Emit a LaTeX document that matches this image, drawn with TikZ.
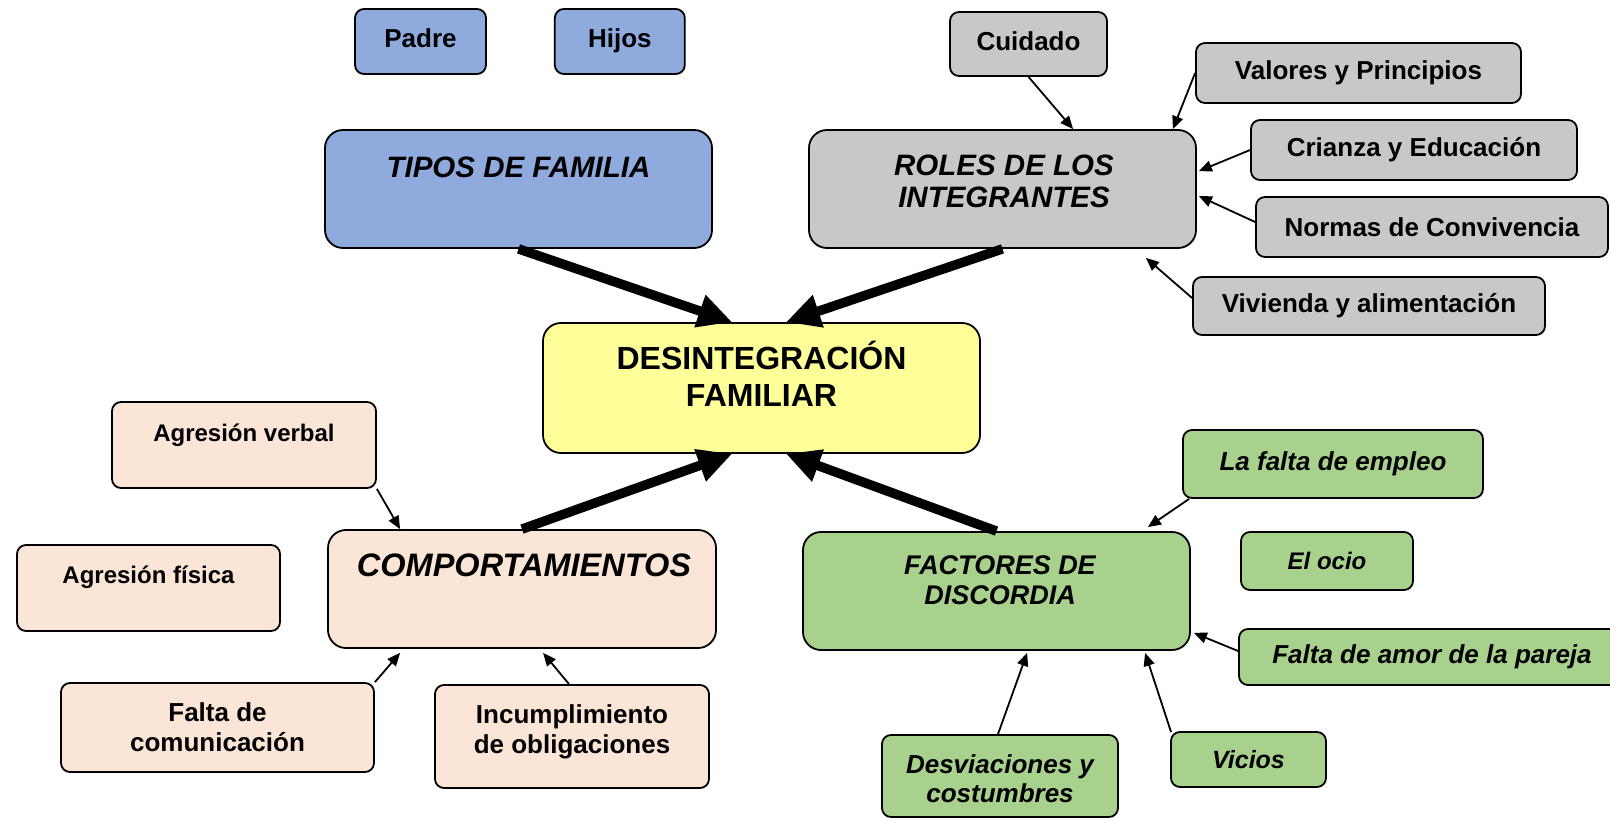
\documentclass[tikz,border=0pt]{standalone}
\usepackage{fontspec}
\setmainfont{Liberation Sans}
\usetikzlibrary{arrows.meta, positioning, calc}
\definecolor{mapBlue}{RGB}{143, 170, 220}
\definecolor{mapGray}{RGB}{200, 200, 200}
\definecolor{mapYellow}{RGB}{255, 255, 153}
\definecolor{mapPeach}{RGB}{251, 229, 214}
\definecolor{mapGreen}{RGB}{169, 209, 142}
\newcommand{\mapfont}[2]{\fontsize{#1}{#2}\selectfont}

\begin{document}
\begin{tikzpicture}[
    x=1pt, y=-1pt,
    % Estilo base para cajas grandes
    block/.style={
        draw=black,
        line width=1.8pt,
        rounded corners=18pt,
        inner sep=0pt,
        align=center
    },
    % Estilo para cajas secundarias
    leaf/.style={
        block,
        rounded corners=9pt,
        font=\bfseries\mapfont{26}{30}
    },
    greenleaf/.style={
        leaf,
        fill=mapGreen,
        font=\bfseries\itshape\mapfont{26}{29}
    },
    % Titulos dentro de las cajas grandes
    title/.style={
        font=\bfseries\itshape\mapfont{29.5}{32},
        align=center,
        inner sep=0pt
    },
    % Flechas gruesas hacia el centro
    thickarrow/.style={
        -{Triangle[length=34pt, width=32pt]},
        line width=9.5pt
    },
    % Flechas finas
    arrow/.style={
        -{Triangle[length=13pt, width=11pt]},
        line width=1.8pt
    }
]

    \path[use as bounding box, fill=white] (0,0) rectangle (1610,818);

    % --- 1. Nodo central ---
    \node[block, fill=mapYellow, minimum width=437pt, minimum height=130pt] (des) at (761.5,388) {};
    \node[title, font=\bfseries\mapfont{32}{37}] (des_txt) at (761.5,374) {DESINTEGRACIÓN\\FAMILIAR};

    % --- 2. Tipos de familia ---
    \node[block, fill=mapBlue, minimum width=387pt, minimum height=118pt] (tipos) at (518.5,189) {};
    \node[title] (tipos_txt) at (518.5,167) {TIPOS DE FAMILIA};

    \node[leaf, fill=mapBlue, minimum width=131pt, minimum height=65pt, text depth=6pt] (padre) at (420.5,41.5) {Padre};
    \node[leaf, fill=mapBlue, minimum width=130pt, minimum height=65pt, text depth=6pt, right=67pt of padre] (hijos) {Hijos};

    \draw[thickarrow] (tipos.south) -- ($(des.north west)+(190,0)$);

    % --- 3. Roles de los integrantes ---
    \node[block, fill=mapGray, minimum width=387pt, minimum height=118pt] (roles) at (1002.5,189) {};
    \node[title] (roles_txt) at (1004,181) {ROLES DE LOS\\INTEGRANTES};

    \node[leaf, fill=mapGray, minimum width=157pt, minimum height=64pt, text depth=6pt] (cuidado) at (1028.5,44) {Cuidado};
    \node[leaf, fill=mapGray, minimum width=325pt, minimum height=60pt] (valores) at (1358.5,73) {Valores y Principios};
    \node[leaf, fill=mapGray, minimum width=326pt, minimum height=60pt] (crianza) at (1414,150) {Crianza y Educación};
    \node[leaf, fill=mapGray, minimum width=352pt, minimum height=60pt] (normas) at (1432,227) {Normas de Convivencia};
    \node[leaf, fill=mapGray, minimum width=352pt, minimum height=58pt] (vivienda) at (1369,306) {Vivienda y alimentación};

    \draw[arrow] (cuidado.south) -- ($(roles.north west)+(265,0)$);
    \draw[arrow] (valores.west) -- ($(roles.north east)+(-24,0)$);
    \draw[arrow] (crianza.west) -- ($(roles.north east)+(2,42)$);
    \draw[arrow] ($(normas.west)+(0,-5)$) -- ($(roles.north east)+(2,67)$);
    \draw[arrow] ($(vivienda.west)+(0,-8)$) -- ($(roles.south east)+(-51,9)$);

    \draw[thickarrow] (roles.south) -- ($(des.north west)+(244,0)$);

    % --- 4. Comportamientos ---
    \node[block, fill=mapPeach, minimum width=388pt, minimum height=118pt] (comp) at (522,589) {};
    \node[title, font=\bfseries\itshape\mapfont{32.5}{34}] (comp_txt) at (524,565.5) {COMPORTAMIENTOS};

    \node[leaf, fill=mapPeach, minimum width=264pt, minimum height=86pt] (averbal) at (244,445) {};
    \node[font=\bfseries\mapfont{24}{28}, anchor=base] (averbal_txt) at (244,441) {Agresión verbal};
    \node[leaf, fill=mapPeach, minimum width=263pt, minimum height=86pt] (afisica) at (148.5,588) {};
    \node[font=\bfseries\mapfont{24}{28}, anchor=base] (afisica_txt) at (148.5,583) {Agresión física};
    \node[leaf, fill=mapPeach, minimum width=313pt, minimum height=89pt] (faltacom) at (217.5,727.5) {Falta de\\comunicación};
    \node[leaf, fill=mapPeach, minimum width=274pt, minimum height=103pt] (incump) at (572,736.5) {};
    \node[font=\bfseries\mapfont{26}{30}, align=center, inner sep=0pt] (incump_txt) at (572,732) {Incumplimiento\\de obligaciones};

    \draw[arrow] (averbal.south east) -- ($(comp.north west)+(73,0)$);
    \draw[arrow] (faltacom.north east) -- ($(comp.south west)+(73,4)$);
    \draw[arrow] ($(incump.north)+(-3,0)$) -- ($(comp.south west)+(216,4)$);

    \draw[thickarrow] (comp.north) -- ($(des.south west)+(190,0)$);

    % --- 5. Factores de discordia ---
    \node[block, fill=mapGreen, minimum width=387pt, minimum height=118pt] (factores) at (996.5,591) {};
    \node[title, font=\bfseries\itshape\mapfont{27}{30}] (factores_txt) at (1000,580) {FACTORES DE\\DISCORDIA};

    \node[greenleaf, minimum width=300pt, minimum height=68pt] (empleo) at (1333,464) {La falta de empleo};
    \node[greenleaf, minimum width=172pt, minimum height=58pt, font=\bfseries\itshape\mapfont{24}{28}] (ocio) at (1327,561) {El ocio};
    \node[greenleaf, minimum width=386pt, minimum height=56pt] (amor) at (1432,657) {Falta de amor de la pareja};
    \node[greenleaf, minimum width=236pt, minimum height=82pt] (desv) at (1000,776) {};
    \node[font=\bfseries\itshape\mapfont{26}{29}, align=center, inner sep=0pt] (desv_txt) at (1000,779) {Desviaciones y\\costumbres};
    \node[greenleaf, minimum width=155pt, minimum height=55pt, font=\bfseries\itshape\mapfont{25}{28}] (vicios) at (1248.5,759.5) {Vicios};

    \draw[arrow] ($(empleo.south west)+(7,0)$) -- ($(factores.north east)+(-43,-4)$);
    \draw[arrow] ($(amor.west)+(0,-6)$) -- ($(factores.south east)+(3,-18)$);
    \draw[arrow] ($(desv.north)+(-2,0)$) -- ($(factores.south west)+(225,2)$);
    \draw[arrow] ($(vicios.north west)+(1,1)$) -- ($(factores.south west)+(343,2)$);

    \draw[thickarrow] (factores.north) -- ($(des.south west)+(244,0)$);

\end{tikzpicture}
\end{document}
